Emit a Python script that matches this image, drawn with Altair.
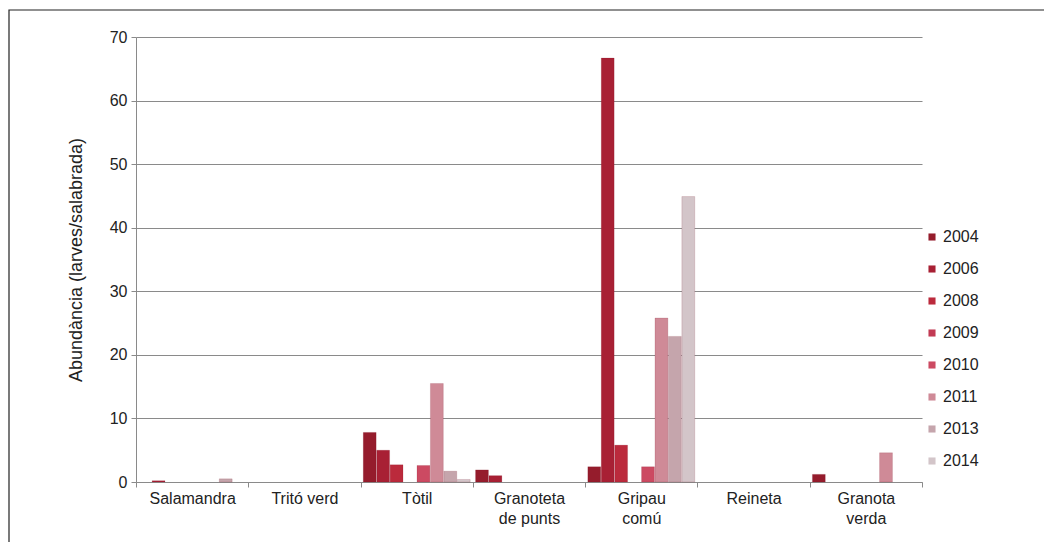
import altair as alt
import pandas as pd

species = ["Salamandra", "Tritó verd", "Tòtil", "Granoteta de punts",
           "Gripau comú", "Reineta", "Granota verda"]
species_lines = [["Salamandra"], ["Tritó verd"], ["Tòtil"], ["Granoteta", "de punts"],
                 ["Gripau", "comú"], ["Reineta"], ["Granota", "verda"]]
years = ["2004", "2006", "2008", "2009", "2010", "2011", "2013", "2014"]

v2004 = [0.0, 0.0, 7.8, 1.9, 2.4, 0.0, 1.2]
v2006 = [0.2, 0.0, 5.0, 1.0, 66.7, 0.0, 0.0]
v2008 = [0.0, 0.0, 2.7, 0.0, 5.8, 0.0, 0.0]
v2009 = [0.0, 0.0, 0.0, 0.0, 0.0, 0.0, 0.0]
v2010 = [0.0, 0.0, 2.6, 0.0, 2.4, 0.0, 0.0]
v2011 = [0.0, 0.0, 15.5, 0.0, 25.8, 0.0, 4.6]
v2013 = [0.5, 0.0, 1.7, 0.0, 22.9, 0.0, 0.0]
v2014 = [0.0, 0.0, 0.4, 0.0, 44.9, 0.0, 0.0]

colors = ["#951c2c", "#a82034", "#bb2a3c", "#c23a54", "#cc4a62",
          "#cf8a97", "#c5a5ac", "#d3c5c9"]

series = [v2004, v2006, v2008, v2009, v2010, v2011, v2013, v2014]
rows = []
for yr, vals in zip(years, series):
    for sp, v in zip(species, vals):
        rows.append({"species": sp, "year": yr, "value": v})
df = pd.DataFrame(rows)

label_map = "{" + ",".join(
    "'" + sp + "':[" + ",".join("'" + l + "'" for l in lines) + "]"
    for sp, lines in zip(species, species_lines)) + "}"

FONT = "Liberation Sans"

bars = alt.Chart(df).transform_filter("datum.value > 0").mark_bar(
    strokeWidth=0.6, stroke="#7a1020", strokeOpacity=0.25
).encode(
    x=alt.X("species:N", sort=species,
            scale=alt.Scale(domain=species, paddingInner=0, paddingOuter=0),
            axis=alt.Axis(title=None, labelAngle=0, tickBand="extent", grid=False,
                          domainColor="#8a8a8a", tickColor="#8a8a8a", tickSize=5,
                          labelFontSize=16, labelColor="#222222", labelPadding=3,
                          labelLineHeight=20, labelFont=FONT,
                          labelExpr=label_map + "[datum.label]")),
    xOffset=alt.XOffset("year:N", sort=years,
                        scale=alt.Scale(domain=years, paddingInner=0.04, paddingOuter=0.2)),
    y=alt.Y("value:Q", scale=alt.Scale(domain=[0, 70]),
            axis=alt.Axis(values=list(range(0, 71, 10)),
                          title="Abundància (larves/salabrada)",
                          titleFontSize=18, titleFontWeight="normal", titleColor="#222222",
                          titleFont=FONT, titlePadding=24,
                          labelFontSize=16, labelColor="#222222", labelFont=FONT,
                          labelPadding=4, tickSize=5, tickColor="#8a8a8a",
                          domainColor="#8a8a8a", gridColor="#8a8a8a", gridWidth=1.2)),
    color=alt.Color("year:N", sort=years,
                    scale=alt.Scale(domain=years, range=colors),
                    legend=alt.Legend(title=None, orient="none", legendX=788, legendY=192,
                                      symbolType="square", symbolSize=50,
                                      symbolStrokeWidth=0,
                                      labelFontSize=16, labelFont=FONT,
                                      labelColor="#222222", rowPadding=16,
                                      labelOffset=3)),
)

frame = alt.Chart(alt.Data(values=[{}])).mark_rect(
    fill=None, stroke="#222222", strokeWidth=1.2
).encode(
    x=alt.value(-127), x2=alt.value(909), y=alt.value(-27), y2=alt.value(520)
)

chart = alt.layer(bars, frame).properties(
    width=786, height=445,
    autosize=alt.AutoSizeParams(type="none"),
    padding={"left": 128, "top": 29, "right": 122, "bottom": 60},
    background="white",
).configure_view(stroke=None)

chart.save("out.html", embed_options={"renderer": "svg", "actions": False})
